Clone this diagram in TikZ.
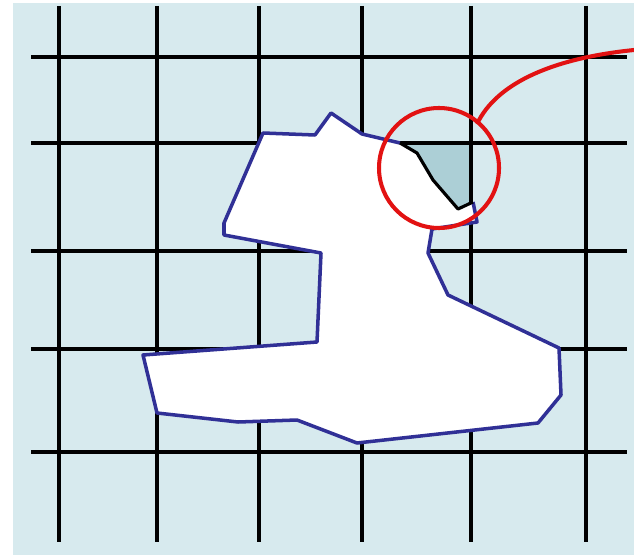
\documentclass[tikz,border=0pt]{standalone}
\usepackage{tikz}
\definecolor{paper}{RGB}{215,234,238}
\definecolor{cutfill}{RGB}{172,207,214}
\definecolor{outlineblue}{RGB}{48,48,150}
\definecolor{markred}{RGB}{226,18,18}
\tikzset{
  grid line/.style={draw=black, line width=2.1pt},
  shape outline/.style={draw=outlineblue, line width=2pt, line join=round},
  cut edge/.style={draw=black, line width=1.8pt, line join=round},
  cut region/.style={fill=cutfill, draw=none},
  marker/.style={draw=markred, line width=2.3pt}
}

\begin{document}
\begin{tikzpicture}[x=0.02cm, y=-0.02cm]
  \useasboundingbox (0,0) rectangle (634,557);
  \fill[paper] (13,3) rectangle (634,555);

% ------------------------------------------------
% shaded piece cut off by the cell
% ------------------------------------------------
  \coordinate (c1) at (400,143);
  \coordinate (c2) at (417,153);
  \coordinate (c3) at (433,180);
  \coordinate (c4) at (458,209);
  \coordinate (c5) at (473,202);
  \fill[cut region] (c1) -- (471,143) -- (471,203) -- (c4) -- (c3) -- (c2) -- cycle;

% ------------------------------------------------
% grid
% ------------------------------------------------
  \foreach \gx in {59,157,259,362,471,586}
    \draw[grid line] (\gx,6) -- (\gx,542);
  \foreach \gy in {57,143,251,349,452}
    \draw[grid line] (31,\gy) -- (627,\gy);

% ------------------------------------------------
% white shape
% ------------------------------------------------
  \coordinate (p1)  at (263,133);
  \coordinate (p2)  at (315,135);
  \coordinate (p3)  at (331,113);
  \coordinate (p4)  at (362,134);
  \coordinate (p10) at (477,222);
  \coordinate (p11) at (432,229);
  \coordinate (p12) at (428,253);
  \coordinate (p13) at (448,295);
  \coordinate (p14) at (559,348);
  \coordinate (p15) at (561,395);
  \coordinate (p16) at (538,423);
  \coordinate (p17) at (357,443);
  \coordinate (p18) at (297,420);
  \coordinate (p19) at (238,422);
  \coordinate (p20) at (157,413);
  \coordinate (p21) at (143,355);
  \coordinate (p22) at (317,342);
  \coordinate (p23) at (321,253);
  \coordinate (p24) at (224,235);
  \coordinate (p25) at (224,223);

  \fill[white] (p1) -- (p2) -- (p3) -- (p4) -- (c1) -- (c2) -- (c3) -- (c4)
    -- (c5) -- (p10) -- (p11) -- (p12) -- (p13) -- (p14) -- (p15) -- (p16)
    -- (p17) -- (p18) -- (p19) -- (p20) -- (p21) -- (p22) -- (p23) -- (p24)
    -- (p25) -- cycle;
  \draw[shape outline] (c5) -- (p10) -- (p11) -- (p12) -- (p13) -- (p14)
    -- (p15) -- (p16) -- (p17) -- (p18) -- (p19) -- (p20) -- (p21) -- (p22)
    -- (p23) -- (p24) -- (p25) -- (p1) -- (p2) -- (p3) -- (p4) -- (c1);
  \draw[cut edge] (c1) -- (c2) -- (c3) -- (c4) -- (c5);

% ------------------------------------------------
% red marker
% ------------------------------------------------
  \coordinate (ring) at (439,168);
  \coordinate (tail) at (634,50);
  \draw[marker] (ring) circle [radius=60];
  \draw[marker] (477,124) .. controls (497,82) and (555,58) .. (tail);
\end{tikzpicture}
\end{document}
